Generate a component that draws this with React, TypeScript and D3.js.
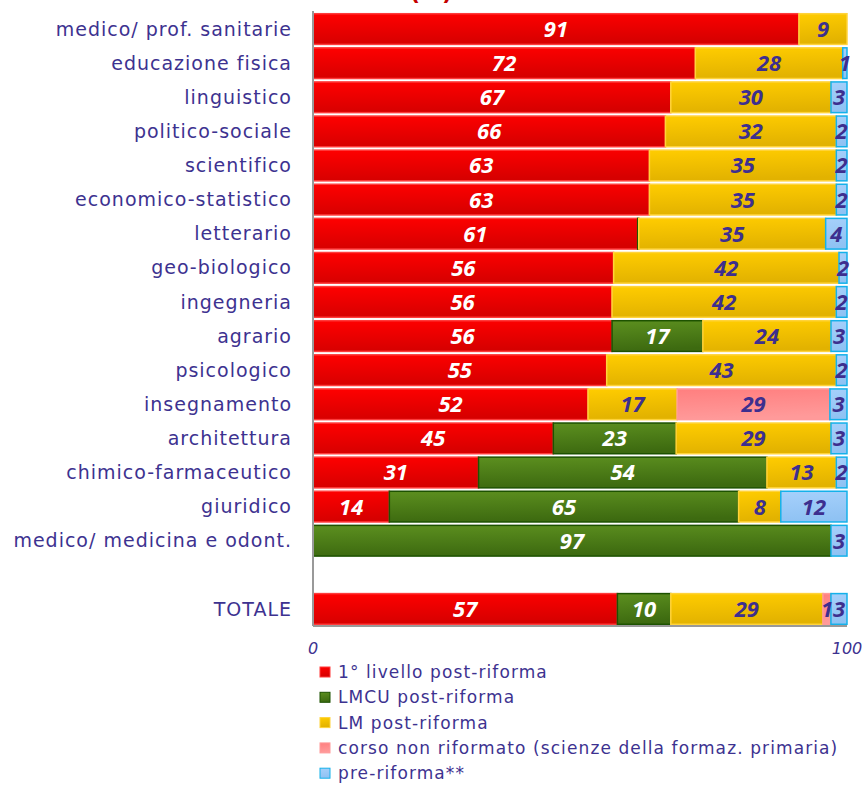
import React from 'react';
import * as d3 from 'd3';

// categorie (dall'alto in basso), "" = riga vuota prima del totale
const categories = [
  'medico/ prof. sanitarie',
  'educazione fisica',
  'linguistico',
  'politico-sociale',
  'scientifico',
  'economico-statistico',
  'letterario',
  'geo-biologico',
  'ingegneria',
  'agrario',
  'psicologico',
  'insegnamento',
  'architettura',
  'chimico-farmaceutico',
  'giuridico',
  'medico/ medicina e odont.',
  '',
  'TOTALE',
];

// valori in % per tipo di corso
const primoLivello = [91, 71.6, 67, 66, 63, 63, 60.8, 56.3, 56, 56, 55, 51.5, 45, 31, 14.3, 0, 0, 57];
const lmcu = [0, 0, 0, 0, 0, 0, 0.2, 0, 0, 17, 0, 0, 23, 54, 65.4, 97, 0, 10];
const lm = [9, 27.6, 30, 32, 35, 35, 35, 42.2, 42, 24, 43, 16.7, 29, 13, 7.9, 0, 0, 28.5];
const nonRiformato = [0, 0, 0, 0, 0, 0, 0, 0, 0, 0, 0, 28.6, 0, 0, 0, 0, 0, 1.49];
const preRiforma = [0, 0.8, 3, 2, 2, 2, 4, 1.5, 2, 3, 2, 3.2, 3, 2, 12.4, 3, 0, 3.01];

const seriesNames = [
  '1° livello post-riforma',
  'LMCU post-riforma',
  'LM post-riforma',
  'corso non riformato (scienze della formaz. primaria)',
  'pre-riforma**',
];
const xTicks = [0, 100];

const seriesStyle = [
  { top: '#ff0000', bottom: '#d60000', stroke: '#ff3b3b', label: '#ffffff' },
  { top: '#5c8f1f', bottom: '#3d6a10', stroke: '#1d5200', label: '#ffffff' },
  { top: '#ffcc00', bottom: '#e2b200', stroke: '#ffd33a', label: '#3d2f8f' },
  { top: '#ff7f7f', bottom: '#ff9a9a', stroke: '#ff9a9a', label: '#3d2f8f' },
  { top: '#a6d0fb', bottom: '#8fc2f3', stroke: '#14b1ea', label: '#3d2f8f' },
];

const textColor = '#3d3290';

const App = () => {
  const width = 867;
  const height = 787;
  const left = 313;
  const right = 847;

  const allSeries = [primoLivello, lmcu, lm, nonRiformato, preRiforma];

  const x = d3.scaleLinear().domain([0, 100]).range([left, right]);
  const y = d3
    .scaleBand<number>()
    .domain(d3.range(categories.length))
    .range([12, 626])
    .paddingInner(0.1)
    .paddingOuter(0.05);

  const rows = categories.map((name, i) => {
    const vals = allSeries.map(s => s[i]);
    const stack = d3.cumsum(vals);
    return { name, i, segs: vals.map((v, k) => ({ v, k, x0: stack[k] - v, x1: stack[k] })) };
  });

  return (
    <svg width={width} height={height} style={{ display: 'block', position: 'absolute', left: 0, top: 0 }}>
      <defs>
        {seriesStyle.map((s, k) => (
          <linearGradient key={k} id={`g${k}`} x1="0" y1="0" x2="0.15" y2="1">
            <stop offset="0" stopColor={s.top} />
            <stop offset="1" stopColor={s.bottom} />
          </linearGradient>
        ))}
      </defs>
      <rect width={width} height={height} fill="#fff" />

      {/* titolo tagliato in alto */}
      <text x={410} y={0} fill="#c40000" fontFamily="DejaVu Sans" fontWeight="bold" fontSize={22}>
        (%)
      </text>

      {/* etichette categorie */}
      {rows.map(r => (
        <text
          key={'c' + r.i}
          x={292}
          y={(y(r.i) as number) + y.bandwidth() / 2}
          dy="0.35em"
          textAnchor="end"
          fill={textColor}
          fontFamily="DejaVu Sans"
          fontSize={19}
          letterSpacing={1}
        >
          {r.name}
        </text>
      ))}

      {/* barre */}
      {rows.map(r =>
        r.segs
          .filter(s => s.v > 0)
          .map(s => (
            <rect
              key={`b${r.i}-${s.k}`}
              x={x(s.x0)}
              y={y(r.i)}
              width={x(s.x1) - x(s.x0)}
              height={y.bandwidth()}
              fill={`url(#g${s.k})`}
              stroke={seriesStyle[s.k].stroke}
              strokeWidth={1.5}
            />
          ))
      )}

      {/* valori */}
      {rows.map(r =>
        r.segs
          .filter(s => Math.round(s.v) >= 1)
          .map(s => (
            <text
              key={`t${r.i}-${s.k}`}
              x={(x(s.x0) + x(s.x1)) / 2}
              y={(y(r.i) as number) + y.bandwidth() / 2}
              dy="0.36em"
              textAnchor="middle"
              fill={seriesStyle[s.k].label}
              fontFamily="Open Sans"
              fontWeight="bold"
              fontStyle="italic"
              fontSize={22}
            >
              {Math.round(s.v)}
            </text>
          ))
      )}

      {/* assi */}
      <line x1={left} x2={left} y1={11} y2={626} stroke="#999" strokeWidth={2} />
      <line x1={left} x2={right} y1={626} y2={626} stroke="#999" strokeWidth={2} />
      {xTicks.map(t => (
        <text
          key={'x' + t}
          x={x(t)}
          y={654}
          textAnchor="middle"
          fill={textColor}
          fontFamily="DejaVu Sans"
          fontStyle="italic"
          fontSize={16}
        >
          {t}
        </text>
      ))}

      {/* legenda */}
      {seriesNames.map((n, k) => (
        <g key={'l' + k} transform={`translate(320, ${672 + k * 25.3})`}>
          <rect x={0} y={-5} width={10} height={10} fill={`url(#g${k})`} stroke={seriesStyle[k].stroke} strokeWidth={1} />
          <text x={18} y={0} dy="0.36em" fill={textColor} fontFamily="DejaVu Sans" fontSize={17} letterSpacing={1.1}>
            {n}
          </text>
        </g>
      ))}
    </svg>
  );
};

export default App;
